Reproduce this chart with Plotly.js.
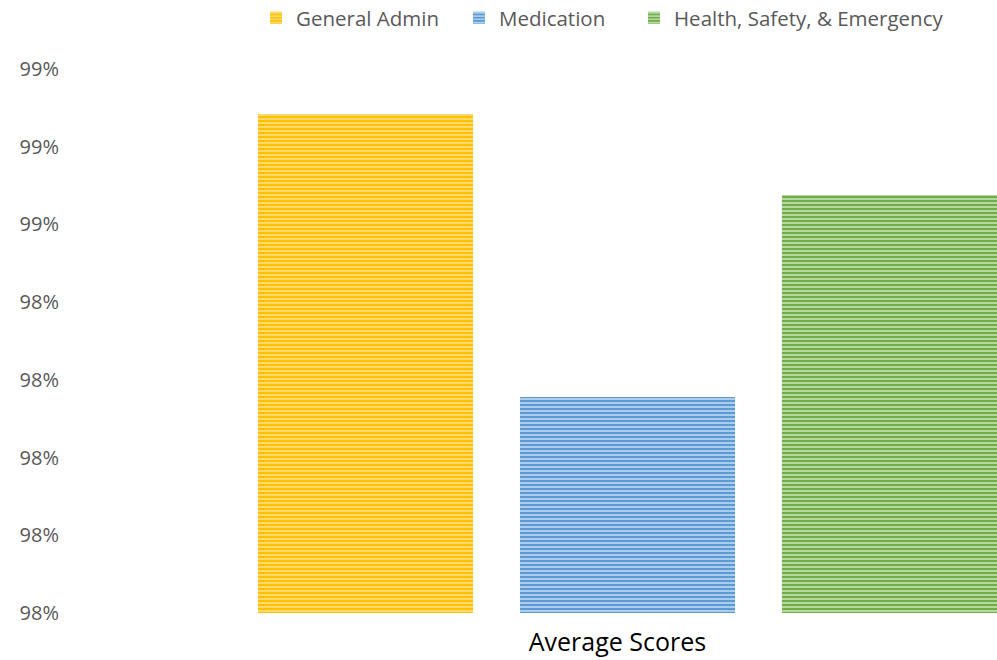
<!DOCTYPE html>
<html>
<head>
<meta charset="utf-8">
<script src="https://cdn.plot.ly/plotly-3.0.1.min.js"></script>
<style>html,body{margin:0;padding:0;background:#fff;}#chart{width:997px;height:660px;}</style>
</head>
<body>
<div id="chart"></div>
<script>
const category = ["Average Scores"];
const seriesNames = ["General Admin", "Medication", "Health, Safety, & Emergency"];
const generalAdmin = [98.642];
const medication = [98.278];
const healthSafety = [98.538];
const tickVals = [98.0, 98.1, 98.2, 98.3, 98.4, 98.5, 98.6, 98.7];
const tickText = ["98%", "98%", "98%", "98%", "98%", "99%", "99%", "99%"];

const colors = ["#FFC000", "#5B9BD5", "#70AD47"];
const light = ["#FFE08A", "#C2D9F0", "#C9E2B8"];
const values = [generalAdmin, medication, healthSafety];
const legendIds = ["legend", "legend2", "legend3"];
const legendX = [0.2041, 0.4221, 0.6101];

const FONT = "Open Sans, sans-serif";
const traces = seriesNames.map((name, i) => ({
  type: "bar",
  name: name,
  x: category,
  y: values[i],
  legend: legendIds[i],
  marker: {
    color: colors[i],
    line: {width: 0},
    pattern: {shape: "-", fgcolor: light[i], bgcolor: colors[i], size: 4, solidity: 0.4, fillmode: "replace"}
  },
  hoverinfo: "skip"
}));

const layout = {
  width: 997, height: 660,
  margin: {l: 66, r: 0, t: 69, b: 47, autoexpand: false},
  paper_bgcolor: "#ffffff", plot_bgcolor: "#ffffff",
  barmode: "group",
  bargap: 0.2,
  bargroupgap: 0.179,
  font: {family: FONT, color: "#595959"},
  showlegend: true,
  xaxis: {type: "category", range: [-0.5715, 0.3761], showgrid: false, zeroline: false, showline: false,
          ticks: "", tickfont: {family: FONT, size: 25, color: "#000000"}, ticklabelshift: -10, ticklabelstandoff: 12},
  yaxis: {range: [98.0, 98.7], tickvals: tickVals, ticktext: tickText, showgrid: false, zeroline: false,
          showline: false, ticks: "", ticklabelstandoff: 6, tickfont: {family: FONT, size: 20, color: "#595959"}}
};
legendIds.forEach((id, i) => {
  layout[id] = {orientation: "h", x: legendX[i], xanchor: "left", y: 1.094, yanchor: "middle",
                font: {family: FONT, size: 20.5, color: "#595959"}, itemwidth: 30, bgcolor: "rgba(0,0,0,0)"};
});

Plotly.newPlot("chart", traces, layout, {displayModeBar: false, staticPlot: true});
</script>
</body>
</html>
